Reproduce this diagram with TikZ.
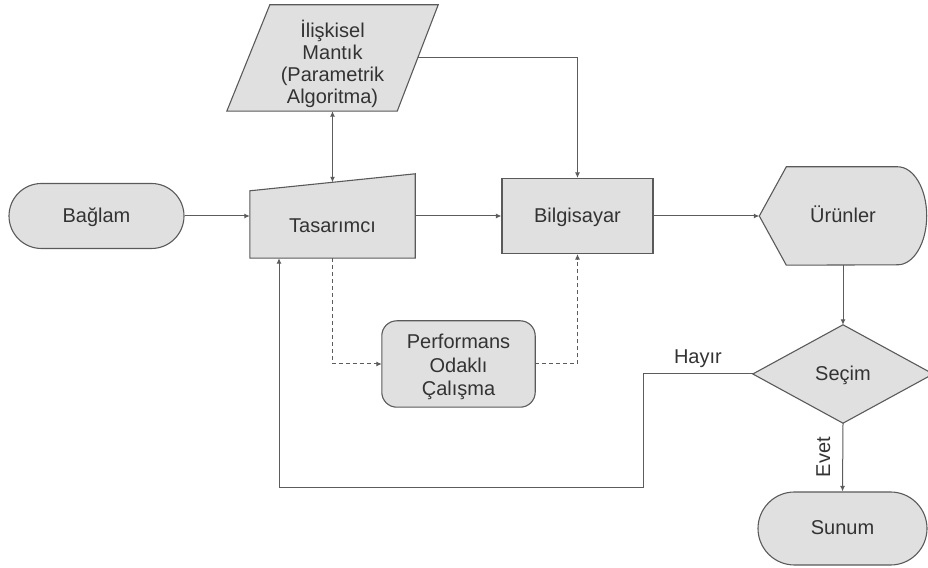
\documentclass[tikz,border=0pt]{standalone}
\usepackage{fontspec}
\setmainfont{Liberation Sans}
\usetikzlibrary{shapes.misc,arrows.meta,calc}
\definecolor{boxfill}{HTML}{E0E0E0}
\definecolor{boxline}{HTML}{5A5A5A}
\definecolor{wire}{HTML}{5C5C5C}
\definecolor{ink}{HTML}{333333}

\begin{document}
\begin{tikzpicture}[x=1pt,y=1pt,
  font=\fontsize{20}{23.5}\selectfont,
  oneline/.style={text height=16pt, text depth=3pt},
  shapebox/.style={draw=boxline, fill=boxfill, line width=1.1pt, text=ink},
  frame/.style={draw=none, inner sep=0pt},
  txt/.style={text=ink, align=center},
  conn/.style={draw=wire, line width=1pt, -{Latex[length=5.5pt,width=5pt]}},
  twoway/.style={draw=wire, line width=1pt, {Latex[length=5.5pt,width=5pt]}-{Latex[length=5.5pt,width=5pt]}},
  dashconn/.style={conn, dash pattern=on 4pt off 3pt}
]
\useasboundingbox (0,0) rectangle (928,567);

% --- terminal: context
\node[shapebox, oneline, rounded rectangle, minimum width=175pt, minimum height=65pt, inner sep=0pt] (bag) at (96.5,351) {Bağlam};

% --- manual input: designer
\node[frame, minimum width=165pt, minimum height=84pt] (tas) at (332.5,351) {};
\draw[shapebox] (tas.south west) -- (tas.south east) -- (tas.north east)
  -- ($(tas.north west)+(0,-17)$) -- cycle;
\node[txt, oneline] (tastext) at ($(tas.center)+(0,-10)$) {Tasarımcı};
\coordinate (tasslope) at ($($(tas.north west)+(0,-17)$)!0.5!(tas.north east)$);

% --- data: relational logic
\node[frame, minimum width=211pt, minimum height=106pt] (ilis) at (332.5,509) {};
\draw[shapebox] (ilis.south west) -- ($(ilis.south east)+(-41,0)$)
  -- (ilis.north east) -- ($(ilis.north west)+(43,0)$) -- cycle;
\node[txt, font=\fontsize{20}{22}\selectfont] (ilistext) at ($(ilis.center)+(0,-6)$) {İlişkisel\\Mantık\\(Parametrik\\Algoritma)};
\coordinate (ilisr) at ($(ilis.east)+(-20.5,0)$);

% --- process: computer
\node[shapebox, oneline, minimum width=151pt, minimum height=75pt] (bil) at (577.5,351) {Bilgisayar};

% --- display: products
\node[frame, minimum width=167pt, minimum height=98pt] (urun) at (843,351) {};
\draw[shapebox] (urun.west) -- ($(urun.north west)+(27,0)$)
  -- ($(urun.north east)+(-29,0)$)
  arc[start angle=90, end angle=-90, x radius=29, y radius=49]
  -- ($(urun.south west)+(27,0)$) -- cycle;
\node[txt, oneline] (uruntext) at (urun.center) {Ürünler};

% --- decision: selection
\node[frame, minimum width=180pt, minimum height=98pt] (sec) at (843,193) {};
\draw[shapebox] (sec.north) -- (sec.east) -- (sec.south) -- (sec.west) -- cycle;
\node[txt, oneline] (sectext) at (sec.center) {Seçim};

% --- terminal: presentation
\node[shapebox, oneline, rounded rectangle, minimum width=169pt, minimum height=73pt, inner sep=0pt] (sun) at (842.5,38.5) {Sunum};

% --- performance oriented study
\node[frame, minimum width=153pt, minimum height=86pt] (perf) at (458.5,203) {};
\draw[shapebox, rounded corners=15pt] (perf.south west) rectangle (perf.north east);
\node[txt] (perftext) at ($(perf.center)+(0,-3)$) {Performans\\Odaklı\\Çalışma};

% --- connectors
\draw[conn] (bag.east) -- (bag.east -| tas.west);
\draw[conn] (tas.east) -- (tas.east -| bil.west);
\draw[conn] (bil.east) -- (bil.east -| urun.west);
\draw[twoway] (tasslope) -- (tasslope |- ilis.south);
\draw[conn] (ilisr) -| (bil.north);
\draw[conn] (urun.south) -- (sec.north);
\draw[conn] (sec.south) -- node[midway, rotate=90, anchor=south, inner sep=12pt, text=ink] {Evet} (sun.north);

\coordinate (hbr) at (643,79);
\coordinate (hbl) at (279,79);
\draw[conn] (sec.west) -- node[midway, above, inner sep=6pt, text=ink] {Hayır} (sec.west -| hbr)
  -- (hbr) -- (hbl) -- (hbl |- tas.south);

\draw[dashconn] (tas.south) |- (perf.west);
\draw[dashconn] (perf.east) -| (bil.south);
\end{tikzpicture}
\end{document}
